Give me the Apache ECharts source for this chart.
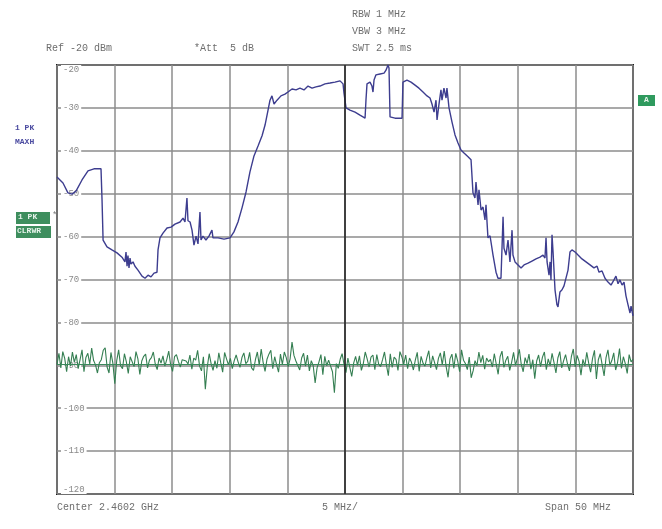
<!DOCTYPE html>
<html>
<head>
<meta charset="utf-8">
<script src="https://cdn.jsdelivr.net/npm/echarts@6/dist/echarts.min.js"></script>
<style>
  html, body { margin: 0; padding: 0; background: #fff; }
  #main { width: 662px; height: 529px; }
</style>
</head>
<body>
<div id="main"></div>
<script>
// spectrum trace, frequency offset from start of span (MHz) and level (dBm)
var traceFreq = [
  0, 0.52, 0.95, 1.30, 1.65, 2.17, 2.69, 3.21, 3.82, 3.91, 4.00, 4.34, 4.77, 5.21, 5.64,
  5.90, 5.99, 6.08, 6.16, 6.25, 6.34, 6.42, 6.60, 6.77, 7.03, 7.38, 7.64, 7.90, 8.16, 8.42,
  8.68, 8.77, 8.94, 9.20, 9.55, 9.90, 10.24, 10.68, 10.94, 11.11, 11.28, 11.37, 11.55, 11.72, 11.89,
  12.07, 12.24, 12.41, 12.50, 12.67, 12.93, 13.19, 13.45, 13.54, 13.98, 14.50, 15.02, 15.36, 15.71, 16.06,
  16.41, 16.75, 17.10, 17.45, 17.80, 18.06, 18.32, 18.49, 18.66, 18.84, 19.10, 19.44, 19.79, 20.05, 20.40,
  20.75, 21.09, 21.44, 21.79, 22.14, 22.48, 22.83, 23.26, 23.70, 24.13, 24.57, 24.83, 24.91, 25.09, 25.43,
  25.87, 26.30, 26.56, 26.74, 26.82, 26.91, 27.17, 27.34, 27.43, 27.52, 27.69, 28.04, 28.39, 28.56, 28.73,
  28.82, 28.91, 29.34, 29.95, 30.03, 30.38, 30.73, 31.08, 31.42, 31.77, 32.12, 32.38, 32.55, 32.73, 32.90,
  32.99, 33.16, 33.33, 33.42, 33.59, 33.77, 33.85, 34.03, 34.29, 34.55, 34.81, 35.07, 35.33, 35.68, 35.94,
  36.11, 36.28, 36.37, 36.55, 36.63, 36.81, 36.98, 37.15, 37.24, 37.41, 37.59, 37.85, 38.11, 38.28, 38.54,
  38.72, 38.80, 38.98, 39.15, 39.32, 39.50, 39.58, 39.76, 40.02, 40.28, 40.54, 40.89, 41.23, 41.58, 41.93,
  42.19, 42.36, 42.45, 42.54, 42.71, 42.80, 42.88, 42.97, 43.06, 43.23, 43.40, 43.49, 43.66, 43.84, 44.01,
  44.18, 44.36, 44.53, 44.70, 44.97, 45.23, 45.57, 45.92, 46.27, 46.61, 46.88, 47.05, 47.31, 47.57, 47.83,
  48.09, 48.35, 48.52, 48.70, 48.87, 49.05, 49.22, 49.39, 49.57, 49.74, 49.83, 50.0
];
var traceLevel = [
  -46.1, -47.5, -49.8, -50.1, -49.4, -46.8, -44.7, -44.2, -44.2, -51.5, -60.8, -62.4, -63.1, -63.8, -64.8,
  -65.9, -63.6, -66.9, -64.4, -67.3, -65.0, -66.4, -65.9, -66.9, -67.8, -69.2, -69.7, -69.0, -69.4, -68.5,
  -68.3, -63.1, -60.3, -59.2, -58.0, -57.8, -57.1, -56.6, -55.7, -56.6, -51.0, -56.3, -56.6, -58.5, -62.0,
  -59.9, -61.7, -54.3, -60.8, -59.9, -60.8, -59.9, -58.5, -60.3, -60.3, -60.6, -60.3, -58.9, -56.6, -53.3,
  -49.6, -44.9, -41.2, -38.9, -36.5, -34.0, -30.5, -28.2, -27.2, -29.1, -28.2, -27.2, -26.8, -26.3, -25.6,
  -25.8, -25.4, -25.8, -24.9, -25.4, -25.1, -24.9, -24.4, -24.2, -24.0, -23.7, -24.4, -26.5, -30.0, -30.5,
  -31.0, -31.7, -32.1, -32.4, -28.2, -24.4, -24.0, -24.9, -26.3, -23.5, -22.3, -22.1, -21.9, -21.2, -20.0,
  -20.7, -32.1, -32.4, -32.4, -24.0, -23.5, -24.0, -24.7, -25.4, -26.3, -27.2, -27.7, -29.1, -31.0, -28.2,
  -32.8, -29.1, -25.8, -28.2, -25.4, -27.7, -25.4, -30.0, -33.3, -36.3, -38.2, -39.8, -40.5, -41.4, -42.1,
  -49.8, -51.0, -47.3, -52.6, -49.1, -53.8, -53.1, -56.1, -52.6, -60.3, -59.8, -64.3, -68.3, -69.7, -69.7,
  -55.4, -62.7, -64.3, -60.8, -65.9, -58.5, -64.3, -65.9, -66.6, -67.3, -66.6, -66.2, -65.7, -65.2, -64.8,
  -64.3, -65.0, -60.3, -65.9, -69.0, -65.9, -70.1, -59.6, -63.6, -72.4, -75.9, -76.4, -72.9, -72.4, -71.5,
  -71.5, -67.8, -63.6, -63.1, -63.6, -64.3, -65.2, -65.9, -66.6, -67.3, -66.9, -68.3, -68.0, -69.7, -70.6,
  -71.3, -70.1, -69.2, -71.0, -70.1, -71.3, -70.6, -73.8, -75.9, -77.8, -76.2, -78.5
];
// noise floor trace, equally spaced sweep points across the 50 MHz span (dBm)
var noiseLevel = [
  -89.8, -87.2, -90.6, -86.8, -88.4, -91.5, -88.0, -90.2, -86.9, -89.3, -87.5, -90.8, -88.6, -86.4, -91.5,
  -88.2, -87.2, -89.7, -86.0, -88.9, -89.9, -91.8, -89.4, -88.7, -86.5, -85.9, -90.4, -91.8, -87.0, -89.5,
  -94.3, -88.9, -86.4, -90.1, -90.8, -87.3, -89.2, -91.9, -88.0, -87.7, -90.3, -86.8, -88.5, -92.1, -89.0,
  -87.9, -87.4, -90.6, -88.8, -88.2, -86.9, -89.7, -91.0, -88.3, -89.5, -87.8, -90.2, -88.6, -86.7, -89.9,
  -91.4, -88.0, -87.5, -89.1, -90.4, -88.7, -88.3, -89.0, -89.7, -87.6, -90.9, -88.3, -88.8, -86.5, -90.2,
  -91.3, -88.0, -95.6, -90.4, -87.3, -89.6, -91.2, -88.9, -90.7, -87.1, -89.4, -91.6, -87.0, -88.5, -89.9,
  -88.4, -90.8, -88.9, -87.6, -89.2, -90.5, -88.2, -87.1, -89.6, -89.1, -87.0, -90.6, -91.2, -88.7, -86.9,
  -90.0, -86.2, -89.3, -91.4, -88.6, -87.4, -86.5, -90.8, -88.0, -89.9, -91.6, -87.4, -89.8, -86.9, -88.2,
  -90.3, -88.5, -84.6, -87.7, -89.0, -89.4, -91.1, -88.3, -87.2, -90.2, -87.6, -91.3, -88.9, -90.1, -94.1,
  -90.6, -89.2, -87.5, -92.2, -87.9, -90.1, -88.8, -88.4, -91.5, -96.4, -89.6, -90.7, -88.6, -87.3, -89.8,
  -91.7, -88.3, -90.5, -92.6, -89.5, -87.9, -90.0, -87.8, -91.2, -89.6, -86.9, -88.5, -90.4, -88.1, -87.6,
  -91.0, -87.5, -89.8, -90.3, -88.7, -86.9, -89.9, -92.4, -87.3, -90.5, -88.1, -88.6, -91.2, -86.8, -88.0,
  -89.7, -87.6, -90.8, -88.3, -89.3, -91.1, -88.8, -87.0, -91.4, -87.9, -89.5, -90.2, -88.2, -86.6, -90.6,
  -87.8, -89.4, -91.0, -88.4, -87.1, -89.9, -86.7, -90.3, -92.8, -88.5, -87.4, -90.7, -87.2, -89.0, -91.5,
  -86.4, -88.8, -89.6, -91.0, -88.1, -92.9, -91.3, -88.9, -90.1, -86.9, -89.4, -87.7, -90.9, -88.3, -89.2,
  -88.6, -90.4, -87.3, -89.7, -92.1, -88.0, -86.7, -90.5, -88.8, -87.9, -91.2, -89.3, -87.0, -90.0, -88.4,
  -86.3, -89.8, -91.5, -88.2, -89.6, -87.4, -90.9, -88.7, -93.1, -89.0, -87.6, -90.3, -88.1, -86.9, -91.0,
  -88.5, -90.1, -87.2, -89.4, -91.8, -88.3, -86.8, -90.6, -88.9, -87.5, -89.7, -91.3, -88.0, -86.2, -90.4,
  -87.7, -89.1, -92.3, -88.6, -90.2, -87.0, -89.5, -91.6, -88.4, -86.5, -93.2, -88.7, -87.3, -89.9, -92.5,
  -88.2, -86.4, -90.0, -88.9, -87.1, -91.1, -89.3, -86.1, -90.7, -88.0, -89.6, -91.9, -87.5, -89.2, -88.6
];
var displayLine = -89.8;
var spanMHz = 50;
var refLevel = -20;
var bottomLevel = -120;

var mono = '"Liberation Mono", "DejaVu Sans Mono", monospace';

var tracePts = traceFreq.map(function (f, i) { return [f, traceLevel[i]]; });
var noisePts = noiseLevel.map(function (v, i) {
  return [i * spanMHz / (noiseLevel.length - 1), v];
});

var chart = echarts.init(document.getElementById('main'));

var option = {
  backgroundColor: '#fff',
  animation: false,
  grid: {
    left: 57, right: 29, top: 65, bottom: 35,
    show: true,
    borderColor: '#1e1e1e',
    borderWidth: 2
  },
  xAxis: {
    type: 'value',
    min: 0, max: spanMHz, interval: 5,
    axisLine: { show: false },
    axisTick: { show: false },
    axisLabel: { show: false },
    splitLine: { lineStyle: { color: '#8c8c8c', width: 1.5 } }
  },
  yAxis: {
    type: 'value',
    min: bottomLevel, max: refLevel, interval: 10,
    axisLine: { show: false },
    axisTick: { show: false },
    axisLabel: {
      inside: true,
      margin: 4,
      color: '#8a8a8a',
      fontFamily: mono,
      fontSize: 9,
      backgroundColor: '#fff',
      padding: [0, 2],
      verticalAlignMinLabel: 'bottom',
      verticalAlignMaxLabel: 'top'
    },
    splitLine: { lineStyle: { color: '#8c8c8c', width: 1.5 } }
  },
  series: [
    {
      name: 'noise',
      type: 'line',
      data: noisePts,
      showSymbol: false,
      lineStyle: { color: '#357f52', width: 1.1 },
      z: 3,
      markLine: {
        silent: true,
        symbol: 'none',
        label: { show: false },
        lineStyle: { color: '#3b8a5c', width: 1.2, type: 'solid' },
        data: [{ yAxis: displayLine }]
      }
    },
    {
      name: 'trace',
      type: 'line',
      data: tracePts,
      showSymbol: false,
      lineStyle: { color: '#3d3d8f', width: 1.4 },
      z: 4,
      markLine: {
        silent: true,
        symbol: 'none',
        label: { show: false },
        lineStyle: { color: '#1e1e1e', width: 1.5, type: 'solid' },
        data: [{ xAxis: spanMHz / 2 }]
      }
    }
  ],
  graphic: [
    { type: 'text', left: 46, top: 43, style: { text: 'Ref -20 dBm', font: '10px ' + mono, fill: '#6e6e6e' } },
    { type: 'text', left: 194, top: 43, style: { text: '*Att  5 dB', font: '10px ' + mono, fill: '#6e6e6e' } },
    { type: 'text', left: 352, top: 9, style: { text: 'RBW 1 MHz', font: '10px ' + mono, fill: '#6e6e6e' } },
    { type: 'text', left: 352, top: 26, style: { text: 'VBW 3 MHz', font: '10px ' + mono, fill: '#6e6e6e' } },
    { type: 'text', left: 352, top: 43, style: { text: 'SWT 2.5 ms', font: '10px ' + mono, fill: '#6e6e6e' } },
    { type: 'text', left: 57, top: 502, style: { text: 'Center 2.4602 GHz', font: '10px ' + mono, fill: '#6e6e6e' } },
    { type: 'text', left: 322, top: 502, style: { text: '5 MHz/', font: '10px ' + mono, fill: '#6e6e6e' } },
    { type: 'text', left: 545, top: 502, style: { text: 'Span 50 MHz', font: '10px ' + mono, fill: '#6e6e6e' } },
    { type: 'text', left: 15, top: 124, style: { text: '1 PK', font: 'bold 8px ' + mono, fill: '#4a4aa0' } },
    { type: 'text', left: 15, top: 138, style: { text: 'MAXH', font: 'bold 8px ' + mono, fill: '#4a4aa0' } },
    { type: 'rect', left: 16, top: 212, shape: { width: 34, height: 12 }, style: { fill: '#3e8e5e' } },
    { type: 'text', left: 18, top: 213, style: { text: '1 PK', font: 'bold 8px ' + mono, fill: '#e8f4ec' } },
    { type: 'text', left: 52, top: 211, style: { text: '*', font: '9px ' + mono, fill: '#777' } },
    { type: 'rect', left: 16, top: 226, shape: { width: 35, height: 12 }, style: { fill: '#3e8e5e' } },
    { type: 'text', left: 17, top: 227, style: { text: 'CLRWR', font: 'bold 8px ' + mono, fill: '#e8f4ec' } },
    { type: 'rect', left: 638, top: 95, shape: { width: 17, height: 11 }, style: { fill: '#2f9a5e' } },
    { type: 'text', left: 644, top: 96, style: { text: 'A', font: 'bold 8px ' + mono, fill: '#e8f4ec' } }
  ]
};

chart.setOption(option);
</script>
</body>
</html>
